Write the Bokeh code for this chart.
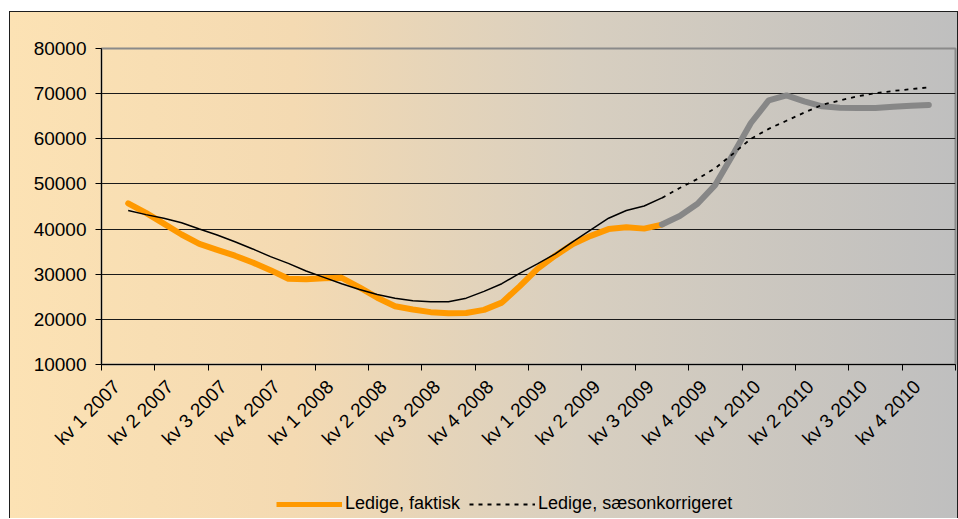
import math
from bokeh.plotting import figure
from bokeh.layouts import column
from bokeh.models import FixedTicker, Legend, LegendItem, BasicTickFormatter
from bokeh.embed import file_html
from bokeh.resources import INLINE

# ---- data (monthly index: 0 = Jan 2007 ... 47 = Dec 2010) ----
quarter_labels = ["kv 1 2007", "kv 2 2007", "kv 3 2007", "kv 4 2007",
                  "kv 1 2008", "kv 2 2008", "kv 3 2008", "kv 4 2008",
                  "kv 1 2009", "kv 2 2009", "kv 3 2009", "kv 4 2009",
                  "kv 1 2010", "kv 2 2010", "kv 3 2010", "kv 4 2010"]
quarter_label_pos = [0.35, 3.35, 6.35, 9.35, 12.35, 15.35, 18.35, 21.35, 24.35, 27.35,
                     30.35, 33.35, 36.35, 39.35, 42.35, 45.35]
quarter_edges = [-0.5, 2.5, 5.5, 8.5, 11.5, 14.5, 17.5, 20.5, 23.5, 26.5, 29.5,
                 32.5, 35.5, 38.5, 41.5, 44.5, 47.5]
y_ticks = [10000, 20000, 30000, 40000, 50000, 60000, 70000, 80000]

months_actual = list(range(1, 32))
ledige_faktisk = [45700, 43600, 41200, 38800, 36700, 35400, 34100, 32600, 30900, 29000,
                  28900, 29100, 29200, 27100, 24800, 22900, 22200, 21600, 21350, 21400,
                  22100, 23700, 27300, 31200, 34100, 36700, 38500, 40000, 40400, 40100,
                  41000]
months_forecast = list(range(31, 47))
ledige_prognose = [41000, 42900, 45600, 49800, 56600, 63500, 68500, 69600, 68300, 67200,
                   66900, 66800, 66800, 67100, 67300, 67500]

saeson_faktisk = [44100, 43200, 42400, 41400, 40000, 38700, 37200, 35600, 33900, 32400,
                  30700, 29300, 27900, 26600, 25500, 24700, 24100, 23900, 23900, 24700,
                  26200, 27900, 30200, 32300, 34500, 37200, 39800, 42400, 44100, 45100,
                  46900]
saeson_prognose = [46900, 49100, 51100, 53500, 56700, 60000, 62200, 64000, 65800, 67500,
                   68500, 69400, 70100, 70600, 71000, 71400]

FONT = "Liberation Sans"
ORANGE = "#ff9900"
GREY = "#878787"

p = figure(width=949, height=470, x_range=(-0.5, 47.5), y_range=(10000, 80000),
           output_backend="svg", toolbar_location=None,
           min_border_left=92, min_border_right=3, min_border_top=37, min_border_bottom=117,
           background_fill_alpha=0, border_fill_alpha=0)

r_act = p.line(months_actual, ledige_faktisk, line_color=ORANGE, line_width=6,
               line_join="round", line_cap="round")
r_fc = p.line(months_forecast, ledige_prognose, line_color=GREY, line_width=6,
              line_join="round", line_cap="round")
r_sa = p.line(months_actual, saeson_faktisk, line_color="black", line_width=1.5)
r_safc = p.line(months_forecast, saeson_prognose, line_color="black", line_width=1.8,
                line_dash="4 5")

# axes
p.xaxis.ticker = FixedTicker(ticks=quarter_label_pos, minor_ticks=quarter_edges)
p.xaxis.major_label_overrides = {m: lab for m, lab in zip(quarter_label_pos, quarter_labels)}
p.xaxis.major_label_orientation = math.pi / 4
p.xaxis.major_tick_line_color = None
p.xaxis.major_tick_out = 6
p.xaxis.major_label_standoff = 13
p.xaxis.minor_tick_out = 6
p.xaxis.minor_tick_in = 0
p.xaxis.minor_tick_line_color = "black"
p.xaxis.axis_line_color = "black"

p.yaxis.ticker = FixedTicker(ticks=y_ticks)
p.yaxis.formatter = BasicTickFormatter(use_scientific=False)
p.yaxis.major_tick_out = 6
p.yaxis.major_tick_in = 0
p.yaxis.minor_tick_line_color = None
p.yaxis.major_label_standoff = 9
p.yaxis.axis_line_color = "black"

for ax in (p.xaxis, p.yaxis):
    ax.major_label_text_font = FONT
    ax.major_label_text_font_size = "19px"
    ax.major_label_text_color = "black"

p.xgrid.visible = False
p.ygrid.ticker = FixedTicker(ticks=y_ticks[1:-1])
p.ygrid.grid_line_color = "#1a1a1a"
p.ygrid.grid_line_width = 1

p.outline_line_color = "#8a8a8a"
p.outline_line_width = 2

# legend strip below the chart; its key renderers hold the same series but
# the strip's ranges keep them out of view, so only the legend shows
pl = figure(width=949, height=37, x_range=(0, 1), y_range=(0, 1),
            output_backend="svg", toolbar_location=None,
            x_axis_type=None, y_axis_type=None, min_border=0,
            outline_line_color=None, background_fill_alpha=0, border_fill_alpha=0)
k_act = pl.line(months_actual, ledige_faktisk, line_color=ORANGE, line_width=5)
k_sa = pl.line(months_forecast, saeson_prognose, line_color="black", line_width=1.8,
               line_dash="4 5")
legend = Legend(items=[LegendItem(label="Ledige, faktisk", renderers=[k_act]),
                       LegendItem(label="Ledige, sæsonkorrigeret", renderers=[k_sa])],
                location=(175, 4), orientation="horizontal",
                glyph_width=66, glyph_height=20, label_standoff=3, spacing=9,
                padding=0, margin=0, border_line_color=None, background_fill_alpha=0,
                label_text_font=FONT, label_text_font_size="18px",
                label_text_color="black")
pl.add_layout(legend)

layout = column(p, pl, spacing=0)
layout.margin = (11, 0, 0, 9)
layout.styles = {
    "background": "linear-gradient(to right, #fce2b4 0%, #f4dab2 30%, #d8cfc0 60%, #bfbfbf 100%)",
    "box-shadow": "inset 1px 1px 0 0 #1e1e1e, inset -1px 0 0 0 #1e1e1e",
}

open("out.html", "w").write(file_html(layout, INLINE))
